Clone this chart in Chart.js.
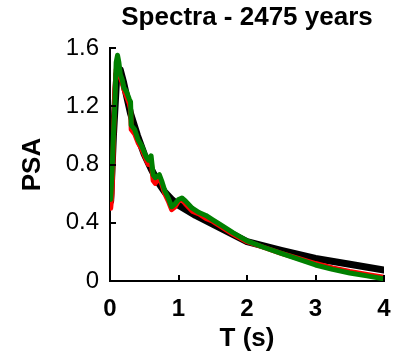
<!DOCTYPE html>
<html>
<head>
<meta charset="utf-8">
<script src="https://cdn.jsdelivr.net/npm/chart.js@4/dist/chart.umd.min.js"></script>
<style>
html,body{margin:0;padding:0;background:#fff;}
#wrap{width:405px;height:361px;}
</style>
</head>
<body>
<div id="wrap"><canvas id="c" width="405" height="361"></canvas></div>
<script>
const titleText = "Spectra - 2475 years";
const xTitle = "T (s)";
const yTitle = "PSA";
const xTicks = [0, 1, 2, 3, 4];
const yTicks = [0, 0.4, 0.8, 1.2, 1.6];

const periods = [0.01,0.03,0.05,0.07,0.09,0.11,0.13,0.15,0.18,0.2,0.24,0.28,0.3,0.31,0.36,0.41,0.46,0.53,0.56,0.6,0.63,0.66,0.72,0.76,0.8,0.85,0.9,0.95,1.0,1.05,1.1,1.2,1.3,1.4,1.5,1.6,1.8,2.0,2.25,2.5,2.75,3.0,3.25,3.5,3.75,4.0];
const greenValues = [0.56,0.75,1.0,1.2,1.5,1.55,1.5,1.42,1.38,1.33,1.3,1.25,1.23,1.07,1.04,0.97,0.93,0.85,0.83,0.86,0.73,0.71,0.73,0.68,0.62,0.57,0.51,0.53,0.56,0.57,0.55,0.5,0.47,0.45,0.42,0.39,0.33,0.275,0.23,0.19,0.15,0.11,0.08,0.055,0.035,0.015];
const redValues = [0.5,0.6,0.95,1.3,1.45,1.48,1.45,1.4,1.36,1.32,1.27,1.22,1.18,1.04,1.01,0.95,0.91,0.83,0.8,0.83,0.69,0.67,0.71,0.66,0.6,0.55,0.49,0.51,0.55,0.56,0.53,0.48,0.46,0.43,0.41,0.38,0.32,0.27,0.23,0.19,0.155,0.12,0.09,0.065,0.045,0.025];

const blackPeriods = [0.01,0.05,0.1,0.15,0.2,0.3,0.4,0.5,0.6,0.7,0.8,0.9,1.0,1.25,1.5,1.75,2.0,2.5,3.0,3.5,4.0];
const blackValues = [0.55,1.0,1.42,1.45,1.36,1.15,1.0,0.87,0.77,0.68,0.61,0.56,0.52,0.45,0.39,0.33,0.27,0.21,0.155,0.115,0.075];

const toPts = (xs, ys) => xs.map((x, i) => ({x: x, y: ys[i]}));

const FONT = "'Liberation Sans', Arial, Helvetica, sans-serif";

const inwardTicks = {
  id: 'inwardTicks',
  afterDatasetsDraw(chart) {
    const {ctx, chartArea, scales} = chart;
    ctx.save();
    ctx.strokeStyle = '#000';
    ctx.lineWidth = 2;
    ctx.beginPath();
    xTicks.forEach(v => {
      const px = Math.round(scales.x.getPixelForValue(v));
      ctx.moveTo(px, chartArea.bottom);
      ctx.lineTo(px, chartArea.bottom - 6);
    });
    yTicks.forEach(v => {
      const py = Math.round(scales.y.getPixelForValue(v));
      ctx.moveTo(chartArea.left, py);
      ctx.lineTo(chartArea.left + 6, py);
    });
    ctx.stroke();
    // title centred over the plot area
    ctx.fillStyle = '#000';
    ctx.font = "bold 26px " + FONT;
    ctx.textAlign = 'center';
    ctx.textBaseline = 'middle';
    ctx.fillText(titleText, (chartArea.left + chartArea.right) / 2, 18);
    ctx.restore();
  }
};

new Chart(document.getElementById('c'), {
  type: 'line',
  data: {
    datasets: [
      {label: 'green', data: toPts(periods, greenValues), borderColor: '#008000', borderWidth: 5, order: 1},
      {label: 'red', data: toPts(periods, redValues), borderColor: '#ff0000', borderWidth: 5, order: 2},
      {label: 'black', data: toPts(blackPeriods, blackValues), borderColor: '#000000', borderWidth: 7, order: 3}
    ]
  },
  options: {
    responsive: false,
    animation: false,
    devicePixelRatio: 1,
    layout: {padding: {left: 0, right: 21, top: 48, bottom: 0}},
    elements: {
      point: {radius: 0},
      line: {tension: 0, borderJoinStyle: 'round', borderCapStyle: 'round', fill: false}
    },
    plugins: {
      legend: {display: false},
      tooltip: {enabled: false},
      title: {display: false}
    },
    scales: {
      x: {
        type: 'linear',
        min: 0, max: 4,
        afterBuildTicks: s => { s.ticks = xTicks.map(v => ({value: v})); },
        afterFit: s => { s.height = 80; },
        grid: {display: true, drawOnChartArea: false, drawTicks: false},
        border: {display: true, color: '#000', width: 2},
        ticks: {
          color: '#000', padding: 14, maxRotation: 0,
          font: {family: FONT, size: 24, weight: 'bold'},
          callback: v => String(v)
        },
        title: {
          display: true, text: xTitle, color: '#000',
          font: {family: FONT, size: 26, weight: 'bold', lineHeight: 1.2},
          padding: {top: 0, bottom: 7}
        }
      },
      y: {
        type: 'linear',
        min: 0, max: 1.6,
        afterBuildTicks: s => { s.ticks = yTicks.map(v => ({value: v})); },
        afterFit: s => { s.width = 110; },
        grid: {display: true, drawOnChartArea: false, drawTicks: false},
        border: {display: true, color: '#000', width: 2},
        ticks: {
          color: '#000', padding: 11,
          font: {family: FONT, size: 24, weight: 'normal'},
          callback: v => (v === 0 ? '0' : v.toFixed(1))
        },
        title: {
          display: true, text: yTitle, color: '#000',
          font: {family: FONT, size: 26, weight: 'bold', lineHeight: 1.2},
          padding: {top: 17, bottom: 0}
        }
      }
    }
  },
  plugins: [inwardTicks]
});
</script>
</body>
</html>
